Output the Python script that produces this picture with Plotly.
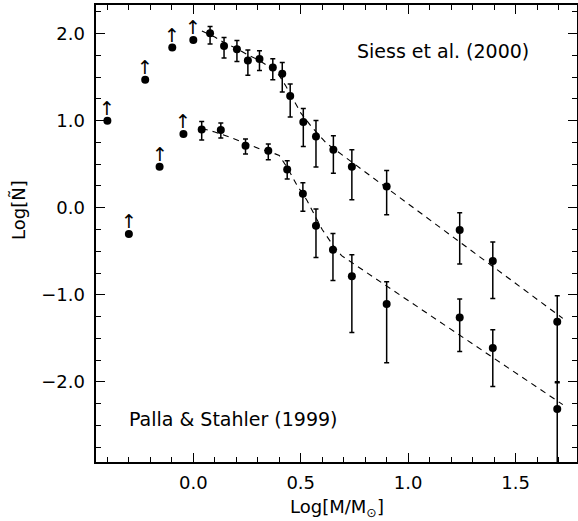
import plotly.graph_objects as go

# ---------------- data ----------------
# Siess et al. (2000)
siess_lim_x = [-0.40, -0.224, -0.098, 0.0]
siess_lim_y = [1.00, 1.47, 1.84, 1.925]
siess_x = [0.078, 0.143, 0.203, 0.254, 0.308, 0.370, 0.414, 0.451, 0.512, 0.571,
           0.652, 0.738, 0.900, 1.240, 1.394, 1.694]
siess_y = [2.005, 1.856, 1.82, 1.69, 1.707, 1.61, 1.538, 1.282, 0.984, 0.817,
           0.666, 0.472, 0.245, -0.256, -0.612, -1.309]
siess_err_plus = [0.075, 0.10, 0.10, 0.12, 0.095, 0.10, 0.13, 0.14, 0.155, 0.185,
                  0.16, 0.195, 0.183, 0.20, 0.22, 0.30]
siess_err_minus = [0.125, 0.136, 0.14, 0.17, 0.13, 0.14, 0.21, 0.24, 0.28, 0.35,
                   0.27, 0.38, 0.325, 0.39, 0.43, 0.69]
siess_fit_x = [0.04, 0.10, 0.14, 0.20, 0.25, 0.30, 0.36, 0.40, 0.43, 0.47, 0.50,
               0.55, 0.60, 0.62, 1.72]
siess_fit_y = [2.03, 1.96, 1.90, 1.83, 1.76, 1.70, 1.61, 1.52, 1.40, 1.23, 1.09,
               0.93, 0.79, 0.74, -1.27]

# Palla & Stahler (1999)
palla_lim_x = [-0.30, -0.157, -0.046]
palla_lim_y = [-0.30, 0.47, 0.846]
palla_x = [0.039, 0.128, 0.243, 0.349, 0.437, 0.510, 0.571, 0.650, 0.738, 0.900,
           1.240, 1.394, 1.694]
palla_y = [0.899, 0.892, 0.712, 0.654, 0.44, 0.161, -0.207, -0.482, -0.786, -1.106,
           -1.259, -1.611, -2.31]
palla_err_plus = [0.09, 0.08, 0.077, 0.077, 0.10, 0.126, 0.192, 0.187, 0.246, 0.256,
                  0.211, 0.21, 0.30]
palla_err_minus = [0.122, 0.092, 0.096, 0.103, 0.11, 0.20, 0.364, 0.353, 0.645, 0.674,
                   0.39, 0.44, 1.0]
palla_fit_x = [0.04, 0.10, 0.17, 0.24, 0.31, 0.36, 0.40, 0.44, 0.48, 0.53, 0.60,
               0.65, 0.69, 1.72]
palla_fit_y = [0.91, 0.87, 0.81, 0.74, 0.675, 0.64, 0.60, 0.45, 0.27, 0.08, -0.25,
               -0.43, -0.55, -2.26]

labels = ["Siess et al. (2000)", "Palla & Stahler (1999)"]
x_title = "Log[M/M<sub>⊙</sub>]"
y_title = "Log[Ñ]"

# ---------------- figure ----------------
FONT = "DejaVu Sans"
fig = go.Figure()

for fx, fy in [(siess_fit_x, siess_fit_y), (palla_fit_x, palla_fit_y)]:
    fig.add_trace(go.Scatter(x=fx, y=fy, mode="lines",
                             line=dict(color="black", width=1.1, dash="6px,5px"),
                             hoverinfo="skip", showlegend=False))

for px, py, ep, em in [(siess_x, siess_y, siess_err_plus, siess_err_minus),
                       (palla_x, palla_y, palla_err_plus, palla_err_minus)]:
    fig.add_trace(go.Scatter(
        x=px, y=py, mode="markers",
        marker=dict(color="black", size=8, line=dict(width=0)),
        error_y=dict(type="data", symmetric=False, array=ep, arrayminus=em,
                     color="black", thickness=1.5, width=2.5),
        showlegend=False))

lim_x = siess_lim_x + palla_lim_x
lim_y = siess_lim_y + palla_lim_y
fig.add_trace(go.Scatter(x=lim_x, y=lim_y, mode="markers",
                         marker=dict(color="black", size=8, line=dict(width=0)),
                         showlegend=False))

annotations = []
for xv, yv in zip(lim_x, lim_y):
    annotations.append(dict(x=xv, y=yv, xref="x", yref="y",
                            text="↑", showarrow=False,
                            xanchor="center", yanchor="bottom", yshift=0,
                            font=dict(family=FONT, size=19, color="black")))

annotations += [
    dict(x=1.163, y=1.80, xref="x", yref="y", text=labels[0], showarrow=False,
         font=dict(family=FONT, size=19, color="black")),
    dict(x=0.189, y=-2.43, xref="x", yref="y", text=labels[1], showarrow=False,
         font=dict(family=FONT, size=19, color="black")),
    dict(x=0.5, y=-0.1007, xref="paper", yref="paper", text=x_title, showarrow=False,
         xanchor="center", yanchor="middle",
         font=dict(family=FONT, size=18, color="black")),
    dict(x=-0.161, y=-0.03, xref="paper", yref="y", text=y_title, showarrow=False,
         textangle=-90, xanchor="center", yanchor="middle",
         font=dict(family=FONT, size=18, color="black")),
]

axis_common = dict(showline=True, linecolor="black", linewidth=1.5, mirror="ticks",
                   ticks="inside", ticklen=9, tickwidth=1.2, tickcolor="black",
                   showgrid=False, zeroline=False, tickformat=".1f", automargin=False,
                   tickfont=dict(family=FONT, size=18, color="black"))

fig.update_xaxes(range=[-0.453, 1.786], tick0=0, dtick=0.5,
                 minor=dict(dtick=0.1, tick0=0, ticks="inside", ticklen=5,
                            tickwidth=1.2, tickcolor="black", showgrid=False),
                 ticklabelstandoff=4, **axis_common)
fig.update_yaxes(range=[-2.919, 2.328], tick0=0, dtick=1.0,
                 minor=dict(dtick=0.25, tick0=0, ticks="inside", ticklen=5,
                            tickwidth=1.2, tickcolor="black", showgrid=False),
                 ticksuffix="\u00a0", **axis_common)

fig.update_layout(width=578, height=521,
                  margin=dict(l=96, r=1, t=5, b=59, pad=0, autoexpand=False),
                  plot_bgcolor="white", paper_bgcolor="white",
                  annotations=annotations, showlegend=False,
                  font=dict(family=FONT, color="black"))

fig.write_html("out.html", config={"displayModeBar": False},
               post_script="document.body.style.margin='0';document.body.style.overflow='hidden';")
